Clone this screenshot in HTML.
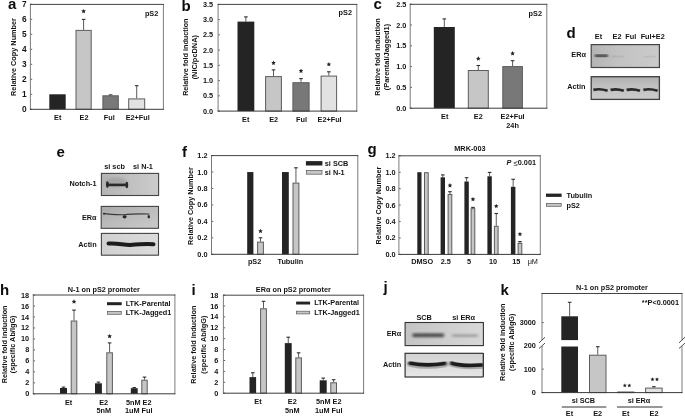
<!DOCTYPE html>
<html><head><meta charset="utf-8"><title>Figure</title>
<style>
html,body{margin:0;padding:0;background:#fff;}
body{width:685px;height:418px;overflow:hidden;font-family:"Liberation Sans",sans-serif;}
svg{display:block;font-family:"Liberation Sans",sans-serif;filter:blur(0.3px);}
</style></head><body>
<svg width="685" height="418" viewBox="0 0 685 418">
<rect x="0" y="0" width="685" height="418" fill="#ffffff"/>
<text x="12.20" y="9.00" text-anchor="middle" font-size="15" font-weight="bold" fill="#0c0c0c">a</text>
<text x="186.00" y="11.40" text-anchor="middle" font-size="15" font-weight="bold" fill="#0c0c0c">b</text>
<text x="377.60" y="8.70" text-anchor="middle" font-size="15" font-weight="bold" fill="#0c0c0c">c</text>
<text x="571.00" y="37.90" text-anchor="middle" font-size="15" font-weight="bold" fill="#0c0c0c">d</text>
<text x="60.60" y="156.80" text-anchor="middle" font-size="15" font-weight="bold" fill="#0c0c0c">e</text>
<text x="184.50" y="156.80" text-anchor="middle" font-size="15" font-weight="bold" fill="#0c0c0c">f</text>
<text x="372.00" y="153.60" text-anchor="middle" font-size="15" font-weight="bold" fill="#0c0c0c">g</text>
<text x="4.50" y="295.10" text-anchor="middle" font-size="15" font-weight="bold" fill="#0c0c0c">h</text>
<text x="193.50" y="294.80" text-anchor="middle" font-size="15" font-weight="bold" fill="#0c0c0c">i</text>
<text x="385.50" y="292.00" text-anchor="middle" font-size="15" font-weight="bold" fill="#0c0c0c">j</text>
<text x="504.70" y="295.10" text-anchor="middle" font-size="15" font-weight="bold" fill="#0c0c0c">k</text>
<line x1="30.40" y1="109.30" x2="32.20" y2="109.30" stroke="#3c3c3c" stroke-width="0.8"/>
<text x="26.60" y="109.30" text-anchor="end" font-size="8.3" font-weight="bold" fill="#141414" dominant-baseline="central" >0</text>
<line x1="30.40" y1="94.30" x2="32.20" y2="94.30" stroke="#3c3c3c" stroke-width="0.8"/>
<text x="26.60" y="94.30" text-anchor="end" font-size="8.3" font-weight="bold" fill="#141414" dominant-baseline="central" >1</text>
<line x1="30.40" y1="79.30" x2="32.20" y2="79.30" stroke="#3c3c3c" stroke-width="0.8"/>
<text x="26.60" y="79.30" text-anchor="end" font-size="8.3" font-weight="bold" fill="#141414" dominant-baseline="central" >2</text>
<line x1="30.40" y1="64.30" x2="32.20" y2="64.30" stroke="#3c3c3c" stroke-width="0.8"/>
<text x="26.60" y="64.30" text-anchor="end" font-size="8.3" font-weight="bold" fill="#141414" dominant-baseline="central" >3</text>
<line x1="30.40" y1="49.30" x2="32.20" y2="49.30" stroke="#3c3c3c" stroke-width="0.8"/>
<text x="26.60" y="49.30" text-anchor="end" font-size="8.3" font-weight="bold" fill="#141414" dominant-baseline="central" >4</text>
<line x1="30.40" y1="34.30" x2="32.20" y2="34.30" stroke="#3c3c3c" stroke-width="0.8"/>
<text x="26.60" y="34.30" text-anchor="end" font-size="8.3" font-weight="bold" fill="#141414" dominant-baseline="central" >5</text>
<line x1="30.40" y1="19.30" x2="32.20" y2="19.30" stroke="#3c3c3c" stroke-width="0.8"/>
<text x="26.60" y="19.30" text-anchor="end" font-size="8.3" font-weight="bold" fill="#141414" dominant-baseline="central" >6</text>
<line x1="30.40" y1="4.30" x2="32.20" y2="4.30" stroke="#3c3c3c" stroke-width="0.8"/>
<text x="26.60" y="4.30" text-anchor="end" font-size="8.3" font-weight="bold" fill="#141414" dominant-baseline="central" >7</text>
<rect x="49.30" y="94.30" width="16.40" height="15.00" fill="#242424"/>
<line x1="83.60" y1="29.90" x2="83.60" y2="19.30" stroke="#5a5a5a" stroke-width="1.0"/>
<line x1="81.80" y1="19.40" x2="85.40" y2="19.40" stroke="#2e2e2e" stroke-width="1.1"/>
<rect x="76.00" y="30.40" width="15.20" height="78.90" fill="#c6c6c6" stroke="#5c5c5c" stroke-width="1.0"/>
<polygon points="83.60,8.90 84.28,10.37 85.88,10.56 84.69,11.66 85.01,13.24 83.60,12.45 82.19,13.24 82.51,11.66 81.32,10.56 82.92,10.37" fill="#222"/>
<line x1="110.60" y1="95.30" x2="110.60" y2="94.80" stroke="#5a5a5a" stroke-width="1.0"/>
<line x1="108.80" y1="94.90" x2="112.40" y2="94.90" stroke="#2e2e2e" stroke-width="1.1"/>
<rect x="102.90" y="95.80" width="15.40" height="13.50" fill="#787878" stroke="#5c5c5c" stroke-width="1.0"/>
<line x1="136.70" y1="98.40" x2="136.70" y2="85.60" stroke="#5a5a5a" stroke-width="1.0"/>
<line x1="134.90" y1="85.70" x2="138.50" y2="85.70" stroke="#2e2e2e" stroke-width="1.1"/>
<rect x="128.70" y="98.90" width="16.00" height="10.40" fill="#e2e2e2" stroke="#5c5c5c" stroke-width="1.0"/>
<line x1="30.40" y1="3.95" x2="30.40" y2="109.75" stroke="#747474" stroke-width="0.95"/>
<line x1="163.40" y1="3.95" x2="163.40" y2="109.75" stroke="#747474" stroke-width="0.95"/>
<line x1="29.95" y1="4.40" x2="163.85" y2="4.40" stroke="#444" stroke-width="1.0"/>
<line x1="29.95" y1="109.30" x2="163.85" y2="109.30" stroke="#3a3a3a" stroke-width="1.0"/>
<text x="57.70" y="117.60" text-anchor="middle" font-size="7.3" font-weight="bold" fill="#141414" dominant-baseline="central" >Et</text>
<text x="84.00" y="117.60" text-anchor="middle" font-size="7.3" font-weight="bold" fill="#141414" dominant-baseline="central" >E2</text>
<text x="109.30" y="117.60" text-anchor="middle" font-size="7.3" font-weight="bold" fill="#141414" dominant-baseline="central" >Ful</text>
<text x="137.70" y="117.60" text-anchor="middle" font-size="7.3" font-weight="bold" fill="#141414" dominant-baseline="central" >E2+Ful</text>
<text x="13.40" y="57.00" text-anchor="middle" font-size="7.3" font-weight="bold" fill="#141414" dominant-baseline="central" transform="rotate(-90 13.40 57.00)" >Relative Copy Number</text>
<text x="158.30" y="13.90" text-anchor="end" font-size="7.3" font-weight="bold" fill="#141414" dominant-baseline="central" >pS2</text>
<line x1="218.10" y1="111.10" x2="219.90" y2="111.10" stroke="#3c3c3c" stroke-width="0.8"/>
<text x="213.10" y="111.10" text-anchor="end" font-size="7.3" font-weight="bold" fill="#141414" dominant-baseline="central" >0.0</text>
<line x1="218.10" y1="95.85" x2="219.90" y2="95.85" stroke="#3c3c3c" stroke-width="0.8"/>
<text x="213.10" y="95.85" text-anchor="end" font-size="7.3" font-weight="bold" fill="#141414" dominant-baseline="central" >0.5</text>
<line x1="218.10" y1="80.60" x2="219.90" y2="80.60" stroke="#3c3c3c" stroke-width="0.8"/>
<text x="213.10" y="80.60" text-anchor="end" font-size="7.3" font-weight="bold" fill="#141414" dominant-baseline="central" >1.0</text>
<line x1="218.10" y1="65.35" x2="219.90" y2="65.35" stroke="#3c3c3c" stroke-width="0.8"/>
<text x="213.10" y="65.35" text-anchor="end" font-size="7.3" font-weight="bold" fill="#141414" dominant-baseline="central" >1.5</text>
<line x1="218.10" y1="50.10" x2="219.90" y2="50.10" stroke="#3c3c3c" stroke-width="0.8"/>
<text x="213.10" y="50.10" text-anchor="end" font-size="7.3" font-weight="bold" fill="#141414" dominant-baseline="central" >2.0</text>
<line x1="218.10" y1="34.85" x2="219.90" y2="34.85" stroke="#3c3c3c" stroke-width="0.8"/>
<text x="213.10" y="34.85" text-anchor="end" font-size="7.3" font-weight="bold" fill="#141414" dominant-baseline="central" >2.5</text>
<line x1="218.10" y1="19.60" x2="219.90" y2="19.60" stroke="#3c3c3c" stroke-width="0.8"/>
<text x="213.10" y="19.60" text-anchor="end" font-size="7.3" font-weight="bold" fill="#141414" dominant-baseline="central" >3.0</text>
<line x1="218.10" y1="4.35" x2="219.90" y2="4.35" stroke="#3c3c3c" stroke-width="0.8"/>
<text x="213.10" y="4.35" text-anchor="end" font-size="7.3" font-weight="bold" fill="#141414" dominant-baseline="central" >3.5</text>
<line x1="245.90" y1="21.60" x2="245.90" y2="16.80" stroke="#5a5a5a" stroke-width="1.0"/>
<line x1="244.10" y1="16.90" x2="247.70" y2="16.90" stroke="#2e2e2e" stroke-width="1.1"/>
<rect x="237.50" y="21.60" width="16.80" height="89.50" fill="#242424"/>
<line x1="273.50" y1="76.10" x2="273.50" y2="69.80" stroke="#5a5a5a" stroke-width="1.0"/>
<line x1="271.70" y1="69.90" x2="275.30" y2="69.90" stroke="#2e2e2e" stroke-width="1.1"/>
<rect x="265.60" y="76.60" width="15.80" height="34.50" fill="#c6c6c6" stroke="#5c5c5c" stroke-width="1.0"/>
<polygon points="273.50,60.60 274.18,62.07 275.78,62.26 274.59,63.36 274.91,64.94 273.50,64.15 272.09,64.94 272.41,63.36 271.22,62.26 272.82,62.07" fill="#222"/>
<line x1="301.00" y1="82.20" x2="301.00" y2="78.50" stroke="#5a5a5a" stroke-width="1.0"/>
<line x1="299.20" y1="78.60" x2="302.80" y2="78.60" stroke="#2e2e2e" stroke-width="1.1"/>
<rect x="292.90" y="82.70" width="16.20" height="28.40" fill="#787878" stroke="#5c5c5c" stroke-width="1.0"/>
<polygon points="301.00,68.60 301.68,70.07 303.28,70.26 302.09,71.36 302.41,72.94 301.00,72.15 299.59,72.94 299.91,71.36 298.72,70.26 300.32,70.07" fill="#222"/>
<line x1="328.85" y1="75.60" x2="328.85" y2="71.70" stroke="#5a5a5a" stroke-width="1.0"/>
<line x1="327.05" y1="71.80" x2="330.65" y2="71.80" stroke="#2e2e2e" stroke-width="1.1"/>
<rect x="321.10" y="76.10" width="15.50" height="35.00" fill="#e2e2e2" stroke="#5c5c5c" stroke-width="1.0"/>
<polygon points="328.85,62.00 329.53,63.47 331.13,63.66 329.94,64.76 330.26,66.34 328.85,65.55 327.44,66.34 327.76,64.76 326.57,63.66 328.17,63.47" fill="#222"/>
<line x1="218.10" y1="3.95" x2="218.10" y2="111.55" stroke="#747474" stroke-width="0.95"/>
<line x1="356.80" y1="3.95" x2="356.80" y2="111.55" stroke="#747474" stroke-width="0.95"/>
<line x1="217.65" y1="4.40" x2="357.25" y2="4.40" stroke="#444" stroke-width="1.0"/>
<line x1="217.65" y1="111.10" x2="357.25" y2="111.10" stroke="#3a3a3a" stroke-width="1.0"/>
<text x="245.70" y="119.60" text-anchor="middle" font-size="7.3" font-weight="bold" fill="#141414" dominant-baseline="central" >Et</text>
<text x="273.70" y="119.60" text-anchor="middle" font-size="7.3" font-weight="bold" fill="#141414" dominant-baseline="central" >E2</text>
<text x="301.60" y="119.60" text-anchor="middle" font-size="7.3" font-weight="bold" fill="#141414" dominant-baseline="central" >Ful</text>
<text x="329.60" y="119.60" text-anchor="middle" font-size="7.3" font-weight="bold" fill="#141414" dominant-baseline="central" >E2+Ful</text>
<text x="186.00" y="57.20" text-anchor="middle" font-size="7.3" font-weight="bold" fill="#141414" dominant-baseline="central" transform="rotate(-90 186.00 57.20)"  textLength="77.3" lengthAdjust="spacingAndGlyphs">Relative fold induction</text>
<text x="194.70" y="57.20" text-anchor="middle" font-size="7.3" font-weight="bold" fill="#141414" dominant-baseline="central" transform="rotate(-90 194.70 57.20)"  textLength="44.3" lengthAdjust="spacingAndGlyphs">(NIC/pcDNA)</text>
<text x="352.00" y="12.80" text-anchor="end" font-size="7.3" font-weight="bold" fill="#141414" dominant-baseline="central" >pS2</text>
<line x1="410.20" y1="108.20" x2="412.00" y2="108.20" stroke="#3c3c3c" stroke-width="0.8"/>
<text x="406.30" y="108.20" text-anchor="end" font-size="7.3" font-weight="bold" fill="#141414" dominant-baseline="central" >0.0</text>
<line x1="410.20" y1="87.40" x2="412.00" y2="87.40" stroke="#3c3c3c" stroke-width="0.8"/>
<text x="406.30" y="87.40" text-anchor="end" font-size="7.3" font-weight="bold" fill="#141414" dominant-baseline="central" >0.5</text>
<line x1="410.20" y1="66.60" x2="412.00" y2="66.60" stroke="#3c3c3c" stroke-width="0.8"/>
<text x="406.30" y="66.60" text-anchor="end" font-size="7.3" font-weight="bold" fill="#141414" dominant-baseline="central" >1.0</text>
<line x1="410.20" y1="45.80" x2="412.00" y2="45.80" stroke="#3c3c3c" stroke-width="0.8"/>
<text x="406.30" y="45.80" text-anchor="end" font-size="7.3" font-weight="bold" fill="#141414" dominant-baseline="central" >1.5</text>
<line x1="410.20" y1="25.00" x2="412.00" y2="25.00" stroke="#3c3c3c" stroke-width="0.8"/>
<text x="406.30" y="25.00" text-anchor="end" font-size="7.3" font-weight="bold" fill="#141414" dominant-baseline="central" >2.0</text>
<line x1="410.20" y1="4.20" x2="412.00" y2="4.20" stroke="#3c3c3c" stroke-width="0.8"/>
<text x="406.30" y="4.20" text-anchor="end" font-size="7.3" font-weight="bold" fill="#141414" dominant-baseline="central" >2.5</text>
<line x1="444.30" y1="27.00" x2="444.30" y2="18.80" stroke="#5a5a5a" stroke-width="1.0"/>
<line x1="442.50" y1="18.90" x2="446.10" y2="18.90" stroke="#2e2e2e" stroke-width="1.1"/>
<rect x="433.80" y="27.00" width="21.00" height="81.20" fill="#242424"/>
<line x1="478.30" y1="70.00" x2="478.30" y2="65.40" stroke="#5a5a5a" stroke-width="1.0"/>
<line x1="476.50" y1="65.50" x2="480.10" y2="65.50" stroke="#2e2e2e" stroke-width="1.1"/>
<rect x="468.30" y="70.50" width="20.00" height="37.70" fill="#c6c6c6" stroke="#5c5c5c" stroke-width="1.0"/>
<polygon points="478.30,56.30 478.98,57.77 480.58,57.96 479.39,59.06 479.71,60.64 478.30,59.85 476.89,60.64 477.21,59.06 476.02,57.96 477.62,57.77" fill="#222"/>
<line x1="512.60" y1="66.10" x2="512.60" y2="60.60" stroke="#5a5a5a" stroke-width="1.0"/>
<line x1="510.80" y1="60.70" x2="514.40" y2="60.70" stroke="#2e2e2e" stroke-width="1.1"/>
<rect x="502.80" y="66.60" width="19.60" height="41.60" fill="#787878" stroke="#5c5c5c" stroke-width="1.0"/>
<polygon points="512.60,51.10 513.28,52.57 514.88,52.76 513.69,53.86 514.01,55.44 512.60,54.65 511.19,55.44 511.51,53.86 510.32,52.76 511.92,52.57" fill="#222"/>
<line x1="410.20" y1="3.85" x2="410.20" y2="108.65" stroke="#747474" stroke-width="0.95"/>
<line x1="546.80" y1="3.85" x2="546.80" y2="108.65" stroke="#747474" stroke-width="0.95"/>
<line x1="409.75" y1="4.30" x2="547.25" y2="4.30" stroke="#444" stroke-width="1.0"/>
<line x1="409.75" y1="108.20" x2="547.25" y2="108.20" stroke="#3a3a3a" stroke-width="1.0"/>
<text x="444.70" y="116.60" text-anchor="middle" font-size="7.3" font-weight="bold" fill="#141414" dominant-baseline="central" >Et</text>
<text x="478.30" y="116.60" text-anchor="middle" font-size="7.3" font-weight="bold" fill="#141414" dominant-baseline="central" >E2</text>
<text x="512.60" y="116.60" text-anchor="middle" font-size="7.3" font-weight="bold" fill="#141414" dominant-baseline="central" >E2+Ful</text>
<text x="512.60" y="125.20" text-anchor="middle" font-size="7.3" font-weight="bold" fill="#141414" dominant-baseline="central" >24h</text>
<text x="377.60" y="57.00" text-anchor="middle" font-size="7.3" font-weight="bold" fill="#141414" dominant-baseline="central" transform="rotate(-90 377.60 57.00)"  textLength="77.5" lengthAdjust="spacingAndGlyphs">Relative fold induction</text>
<text x="386.20" y="57.00" text-anchor="middle" font-size="7.3" font-weight="bold" fill="#141414" dominant-baseline="central" transform="rotate(-90 386.20 57.00)"  textLength="66.5" lengthAdjust="spacingAndGlyphs">(Parental/Jagged1)</text>
<text x="542.00" y="13.00" text-anchor="end" font-size="7.3" font-weight="bold" fill="#141414" dominant-baseline="central" >pS2</text>
<defs>
<filter id="b1" x="-20%" y="-100%" width="140%" height="300%"><feGaussianBlur stdDeviation="0.9 0.7"/></filter>
<filter id="b2" x="-20%" y="-100%" width="140%" height="300%"><feGaussianBlur stdDeviation="1.4 1.1"/></filter>
<filter id="b05" x="-20%" y="-100%" width="140%" height="300%"><feGaussianBlur stdDeviation="0.5"/></filter>
<linearGradient id="gd1" x1="0" x2="1" y1="0" y2="0"><stop offset="0" stop-color="#b4b4b4"/><stop offset="0.4" stop-color="#c2c2c2"/><stop offset="1" stop-color="#cbcbcb"/></linearGradient>
<linearGradient id="gd2" x1="0" x2="0" y1="0" y2="1"><stop offset="0" stop-color="#aeaeae"/><stop offset="0.35" stop-color="#bebebe"/><stop offset="1" stop-color="#cccccc"/></linearGradient>
<linearGradient id="ge1" x1="0" x2="1" y1="0" y2="0"><stop offset="0" stop-color="#b4b4b4"/><stop offset="0.5" stop-color="#c0c0c0"/><stop offset="1" stop-color="#cccccc"/></linearGradient>
<linearGradient id="ge2" x1="0" x2="1" y1="0" y2="1"><stop offset="0" stop-color="#a8a8a8"/><stop offset="0.5" stop-color="#bcbcbc"/><stop offset="1" stop-color="#cacaca"/></linearGradient>
<linearGradient id="ge3" x1="0" x2="1" y1="0" y2="0"><stop offset="0" stop-color="#d0d0d0"/><stop offset="1" stop-color="#dcdcdc"/></linearGradient>
<linearGradient id="gj1" x1="0" x2="1" y1="0" y2="0"><stop offset="0" stop-color="#c4c4c4"/><stop offset="1" stop-color="#d8d8d8"/></linearGradient>
<linearGradient id="gj2" x1="0" x2="0" y1="0" y2="1"><stop offset="0" stop-color="#d2d2d2"/><stop offset="1" stop-color="#e6e6e6"/></linearGradient>
</defs>
<text x="598.50" y="36.60" text-anchor="middle" font-size="7.3" font-weight="bold" fill="#141414" dominant-baseline="central" >Et</text>
<text x="617.00" y="36.60" text-anchor="middle" font-size="7.3" font-weight="bold" fill="#141414" dominant-baseline="central" >E2</text>
<text x="630.80" y="36.60" text-anchor="middle" font-size="7.3" font-weight="bold" fill="#141414" dominant-baseline="central" >Ful</text>
<text x="652.70" y="36.60" text-anchor="middle" font-size="7.3" font-weight="bold" fill="#141414" dominant-baseline="central" >Ful+E2</text>
<rect x="591.20" y="44.60" width="68.20" height="22.90" fill="url(#gd1)" stroke="#444" stroke-width="1.2"/>
<rect x="594.80" y="54.30" width="13.20" height="3.00" rx="1" fill="#444" opacity="0.8" filter="url(#b1)"/>
<rect x="611.00" y="55.50" width="13.00" height="2.00" rx="1" fill="#888" opacity="0.2" filter="url(#b1)"/>
<rect x="644.00" y="55.80" width="12.00" height="1.80" rx="1" fill="#888" opacity="0.2" filter="url(#b1)"/>
<rect x="591.20" y="76.70" width="68.20" height="22.70" fill="url(#gd2)" stroke="#3e3e3e" stroke-width="1.3"/>
<path d="M593.4 89.9 C597.4 88.9 601.6 88.7 607.6 90.8" stroke="#2a2a2a" stroke-width="2.7" fill="none" filter="url(#b05)"/>
<path d="M610.6 89.9 C614.6 88.9 617.8 88.7 623.8 90.8" stroke="#2a2a2a" stroke-width="2.7" fill="none" filter="url(#b05)"/>
<path d="M626.6 89.9 C630.6 88.9 634.0 88.7 640.0 90.8" stroke="#2a2a2a" stroke-width="2.7" fill="none" filter="url(#b05)"/>
<path d="M643.4 89.9 C647.4 88.9 651.6 88.7 657.6 90.8" stroke="#2a2a2a" stroke-width="2.7" fill="none" filter="url(#b05)"/>
<text x="585.90" y="54.30" text-anchor="end" font-size="7.3" font-weight="bold" fill="#141414" dominant-baseline="central" >ER&#945;</text>
<text x="585.50" y="86.80" text-anchor="end" font-size="7.3" font-weight="bold" fill="#141414" dominant-baseline="central" >Actin</text>
<text x="114.60" y="166.40" text-anchor="middle" font-size="7.3" font-weight="bold" fill="#141414" dominant-baseline="central" >si scb</text>
<text x="143.00" y="166.40" text-anchor="middle" font-size="7.3" font-weight="bold" fill="#141414" dominant-baseline="central" >si N-1</text>
<rect x="101.40" y="173.40" width="57.20" height="22.10" fill="url(#ge1)" stroke="#444" stroke-width="1.1"/>
<ellipse cx="116" cy="182.5" rx="11" ry="5" fill="#8a8a8a" opacity="0.4" filter="url(#b2)"/>
<g filter="url(#b05)"><line x1="107.3" y1="184.9" x2="126.8" y2="184.9" stroke="#2c2c2c" stroke-width="2.6"/><ellipse cx="107.4" cy="184.6" rx="1.4" ry="3.3" fill="#2c2c2c"/><ellipse cx="126.8" cy="185" rx="1.4" ry="3.3" fill="#2c2c2c"/></g>
<rect x="101.20" y="206.40" width="57.30" height="21.90" fill="url(#ge2)" stroke="#444" stroke-width="1.1"/>
<path d="M103.6 213.6 C110 214.4 118 214.6 124 214.8 C132 213.6 140 213.8 149.5 214" stroke="#3a3a3a" stroke-width="1.2" fill="none" filter="url(#b05)"/>
<g filter="url(#b05)" fill="#262626"><ellipse cx="124.6" cy="216.8" rx="2" ry="1.6"/><ellipse cx="148.8" cy="216.8" rx="1.2" ry="1.7"/><ellipse cx="104" cy="213.6" rx="1" ry="0.9"/></g>
<rect x="101.40" y="233.40" width="57.10" height="21.80" fill="url(#ge3)" stroke="#444" stroke-width="1.1"/>
<path d="M108.5 243.6 C116 242.8 122 244.6 130 245 C138 244.2 146 243.4 153.5 244.2" stroke="#1e1e1e" stroke-width="4" stroke-linecap="round" fill="none" filter="url(#b05)"/>
<text x="96.60" y="183.80" text-anchor="end" font-size="7.3" font-weight="bold" fill="#141414" dominant-baseline="central" >Notch-1</text>
<text x="96.60" y="217.40" text-anchor="end" font-size="7.3" font-weight="bold" fill="#141414" dominant-baseline="central" >ER&#945;</text>
<text x="96.60" y="244.00" text-anchor="end" font-size="7.3" font-weight="bold" fill="#141414" dominant-baseline="central" >Actin</text>
<line x1="211.50" y1="254.30" x2="213.30" y2="254.30" stroke="#3c3c3c" stroke-width="0.8"/>
<text x="207.50" y="254.30" text-anchor="end" font-size="7.3" font-weight="bold" fill="#141414" dominant-baseline="central" >0.0</text>
<line x1="211.50" y1="237.85" x2="213.30" y2="237.85" stroke="#3c3c3c" stroke-width="0.8"/>
<text x="207.50" y="237.85" text-anchor="end" font-size="7.3" font-weight="bold" fill="#141414" dominant-baseline="central" >0.2</text>
<line x1="211.50" y1="221.40" x2="213.30" y2="221.40" stroke="#3c3c3c" stroke-width="0.8"/>
<text x="207.50" y="221.40" text-anchor="end" font-size="7.3" font-weight="bold" fill="#141414" dominant-baseline="central" >0.4</text>
<line x1="211.50" y1="204.95" x2="213.30" y2="204.95" stroke="#3c3c3c" stroke-width="0.8"/>
<text x="207.50" y="204.95" text-anchor="end" font-size="7.3" font-weight="bold" fill="#141414" dominant-baseline="central" >0.6</text>
<line x1="211.50" y1="188.50" x2="213.30" y2="188.50" stroke="#3c3c3c" stroke-width="0.8"/>
<text x="207.50" y="188.50" text-anchor="end" font-size="7.3" font-weight="bold" fill="#141414" dominant-baseline="central" >0.8</text>
<line x1="211.50" y1="172.05" x2="213.30" y2="172.05" stroke="#3c3c3c" stroke-width="0.8"/>
<text x="207.50" y="172.05" text-anchor="end" font-size="7.3" font-weight="bold" fill="#141414" dominant-baseline="central" >1.0</text>
<line x1="211.50" y1="155.60" x2="213.30" y2="155.60" stroke="#3c3c3c" stroke-width="0.8"/>
<text x="207.50" y="155.60" text-anchor="end" font-size="7.3" font-weight="bold" fill="#141414" dominant-baseline="central" >1.2</text>
<rect x="247.20" y="172.05" width="6.20" height="82.25" fill="#242424"/>
<line x1="260.50" y1="241.60" x2="260.50" y2="237.70" stroke="#5a5a5a" stroke-width="1.0"/>
<line x1="258.70" y1="237.80" x2="262.30" y2="237.80" stroke="#2e2e2e" stroke-width="1.1"/>
<rect x="257.60" y="242.10" width="5.80" height="12.20" fill="#c6c6c6" stroke="#5c5c5c" stroke-width="1.0"/>
<polygon points="260.50,228.80 261.18,230.27 262.78,230.46 261.59,231.56 261.91,233.14 260.50,232.35 259.09,233.14 259.41,231.56 258.22,230.46 259.82,230.27" fill="#222"/>
<rect x="282.00" y="172.05" width="6.80" height="82.25" fill="#242424"/>
<line x1="295.95" y1="182.60" x2="295.95" y2="167.70" stroke="#5a5a5a" stroke-width="1.0"/>
<line x1="294.15" y1="167.80" x2="297.75" y2="167.80" stroke="#2e2e2e" stroke-width="1.1"/>
<rect x="293.00" y="183.10" width="5.90" height="71.20" fill="#c6c6c6" stroke="#5c5c5c" stroke-width="1.0"/>
<line x1="211.50" y1="155.15" x2="211.50" y2="254.75" stroke="#747474" stroke-width="0.95"/>
<line x1="357.80" y1="155.15" x2="357.80" y2="254.75" stroke="#747474" stroke-width="0.95"/>
<line x1="211.05" y1="155.60" x2="358.25" y2="155.60" stroke="#444" stroke-width="1.0"/>
<line x1="211.05" y1="254.30" x2="358.25" y2="254.30" stroke="#3a3a3a" stroke-width="1.0"/>
<text x="254.60" y="261.70" text-anchor="middle" font-size="7.3" font-weight="bold" fill="#141414" dominant-baseline="central" >pS2</text>
<text x="290.40" y="261.70" text-anchor="middle" font-size="7.3" font-weight="bold" fill="#141414" dominant-baseline="central" >Tubulin</text>
<text x="190.00" y="206.00" text-anchor="middle" font-size="7.3" font-weight="bold" fill="#141414" dominant-baseline="central" transform="rotate(-90 190.00 206.00)" >Relative Copy Number</text>
<rect x="305.90" y="161.10" width="16.50" height="4.40" fill="#242424"/>
<text x="324.80" y="163.30" text-anchor="start" font-size="7.3" font-weight="bold" fill="#141414" dominant-baseline="central" >si SCB</text>
<rect x="306.30" y="170.40" width="15.70" height="3.80" fill="#c6c6c6" stroke="#606060" stroke-width="0.75"/>
<text x="324.80" y="172.20" text-anchor="start" font-size="7.3" font-weight="bold" fill="#141414" dominant-baseline="central" >si N-1</text>
<line x1="398.90" y1="254.40" x2="400.70" y2="254.40" stroke="#3c3c3c" stroke-width="0.8"/>
<text x="395.60" y="254.40" text-anchor="end" font-size="7.3" font-weight="bold" fill="#141414" dominant-baseline="central" >0.0</text>
<line x1="398.90" y1="237.97" x2="400.70" y2="237.97" stroke="#3c3c3c" stroke-width="0.8"/>
<text x="395.60" y="237.97" text-anchor="end" font-size="7.3" font-weight="bold" fill="#141414" dominant-baseline="central" >0.2</text>
<line x1="398.90" y1="221.54" x2="400.70" y2="221.54" stroke="#3c3c3c" stroke-width="0.8"/>
<text x="395.60" y="221.54" text-anchor="end" font-size="7.3" font-weight="bold" fill="#141414" dominant-baseline="central" >0.4</text>
<line x1="398.90" y1="205.11" x2="400.70" y2="205.11" stroke="#3c3c3c" stroke-width="0.8"/>
<text x="395.60" y="205.11" text-anchor="end" font-size="7.3" font-weight="bold" fill="#141414" dominant-baseline="central" >0.6</text>
<line x1="398.90" y1="188.68" x2="400.70" y2="188.68" stroke="#3c3c3c" stroke-width="0.8"/>
<text x="395.60" y="188.68" text-anchor="end" font-size="7.3" font-weight="bold" fill="#141414" dominant-baseline="central" >0.8</text>
<line x1="398.90" y1="172.25" x2="400.70" y2="172.25" stroke="#3c3c3c" stroke-width="0.8"/>
<text x="395.60" y="172.25" text-anchor="end" font-size="7.3" font-weight="bold" fill="#141414" dominant-baseline="central" >1.0</text>
<line x1="398.90" y1="155.82" x2="400.70" y2="155.82" stroke="#3c3c3c" stroke-width="0.8"/>
<text x="395.60" y="155.82" text-anchor="end" font-size="7.3" font-weight="bold" fill="#141414" dominant-baseline="central" >1.2</text>
<rect x="417.30" y="172.20" width="4.20" height="82.20" fill="#242424"/>
<rect x="424.50" y="172.70" width="3.70" height="81.70" fill="#c6c6c6" stroke="#5c5c5c" stroke-width="1.0"/>
<line x1="442.80" y1="177.30" x2="442.80" y2="174.80" stroke="#5a5a5a" stroke-width="1.0"/>
<line x1="441.00" y1="174.90" x2="444.60" y2="174.90" stroke="#2e2e2e" stroke-width="1.1"/>
<rect x="440.60" y="177.30" width="4.40" height="77.10" fill="#242424"/>
<line x1="449.95" y1="194.00" x2="449.95" y2="191.60" stroke="#5a5a5a" stroke-width="1.0"/>
<line x1="448.15" y1="191.70" x2="451.75" y2="191.70" stroke="#2e2e2e" stroke-width="1.1"/>
<rect x="448.10" y="194.50" width="3.70" height="59.90" fill="#c6c6c6" stroke="#5c5c5c" stroke-width="1.0"/>
<polygon points="449.95,183.10 450.63,184.57 452.23,184.76 451.04,185.86 451.36,187.44 449.95,186.65 448.54,187.44 448.86,185.86 447.67,184.76 449.27,184.57" fill="#222"/>
<line x1="466.60" y1="181.50" x2="466.60" y2="177.60" stroke="#5a5a5a" stroke-width="1.0"/>
<line x1="464.80" y1="177.70" x2="468.40" y2="177.70" stroke="#2e2e2e" stroke-width="1.1"/>
<rect x="464.40" y="181.50" width="4.40" height="72.90" fill="#242424"/>
<line x1="472.95" y1="208.20" x2="472.95" y2="207.30" stroke="#5a5a5a" stroke-width="1.0"/>
<line x1="471.15" y1="207.40" x2="474.75" y2="207.40" stroke="#2e2e2e" stroke-width="1.1"/>
<rect x="471.10" y="208.70" width="3.70" height="45.70" fill="#c6c6c6" stroke="#5c5c5c" stroke-width="1.0"/>
<polygon points="472.95,196.90 473.63,198.37 475.23,198.56 474.04,199.66 474.36,201.24 472.95,200.45 471.54,201.24 471.86,199.66 470.67,198.56 472.27,198.37" fill="#222"/>
<line x1="489.60" y1="176.30" x2="489.60" y2="172.30" stroke="#5a5a5a" stroke-width="1.0"/>
<line x1="487.80" y1="172.40" x2="491.40" y2="172.40" stroke="#2e2e2e" stroke-width="1.1"/>
<rect x="487.40" y="176.30" width="4.40" height="78.10" fill="#242424"/>
<line x1="496.25" y1="225.80" x2="496.25" y2="213.40" stroke="#5a5a5a" stroke-width="1.0"/>
<line x1="494.45" y1="213.50" x2="498.05" y2="213.50" stroke="#2e2e2e" stroke-width="1.1"/>
<rect x="494.40" y="226.30" width="3.70" height="28.10" fill="#c6c6c6" stroke="#5c5c5c" stroke-width="1.0"/>
<polygon points="496.25,203.70 496.93,205.17 498.53,205.36 497.34,206.46 497.66,208.04 496.25,207.25 494.84,208.04 495.16,206.46 493.97,205.36 495.57,205.17" fill="#222"/>
<line x1="513.15" y1="186.80" x2="513.15" y2="179.20" stroke="#5a5a5a" stroke-width="1.0"/>
<line x1="511.35" y1="179.30" x2="514.95" y2="179.30" stroke="#2e2e2e" stroke-width="1.1"/>
<rect x="510.90" y="186.80" width="4.50" height="67.60" fill="#242424"/>
<line x1="519.95" y1="242.90" x2="519.95" y2="241.50" stroke="#5a5a5a" stroke-width="1.0"/>
<line x1="518.15" y1="241.60" x2="521.75" y2="241.60" stroke="#2e2e2e" stroke-width="1.1"/>
<rect x="518.10" y="243.40" width="3.70" height="11.00" fill="#c6c6c6" stroke="#5c5c5c" stroke-width="1.0"/>
<polygon points="519.95,231.80 520.63,233.27 522.23,233.46 521.04,234.56 521.36,236.14 519.95,235.35 518.54,236.14 518.86,234.56 517.67,233.46 519.27,233.27" fill="#222"/>
<line x1="398.90" y1="155.35" x2="398.90" y2="254.85" stroke="#747474" stroke-width="0.95"/>
<line x1="540.30" y1="155.35" x2="540.30" y2="254.85" stroke="#747474" stroke-width="0.95"/>
<line x1="398.45" y1="155.80" x2="540.75" y2="155.80" stroke="#444" stroke-width="1.0"/>
<line x1="398.45" y1="254.40" x2="540.75" y2="254.40" stroke="#3a3a3a" stroke-width="1.0"/>
<text x="422.20" y="261.70" text-anchor="middle" font-size="7.3" font-weight="bold" fill="#141414" dominant-baseline="central" >DMSO</text>
<text x="445.80" y="261.70" text-anchor="middle" font-size="7.3" font-weight="bold" fill="#141414" dominant-baseline="central" >2.5</text>
<text x="469.00" y="261.70" text-anchor="middle" font-size="7.3" font-weight="bold" fill="#141414" dominant-baseline="central" >5</text>
<text x="493.00" y="261.70" text-anchor="middle" font-size="7.3" font-weight="bold" fill="#141414" dominant-baseline="central" >10</text>
<text x="516.30" y="261.70" text-anchor="middle" font-size="7.3" font-weight="bold" fill="#141414" dominant-baseline="central" >15</text>
<text x="532.80" y="261.70" text-anchor="middle" font-size="7.3" font-weight="normal" fill="#141414" dominant-baseline="central" >&#956;M</text>
<text x="378.40" y="205.50" text-anchor="middle" font-size="7.3" font-weight="bold" fill="#141414" dominant-baseline="central" transform="rotate(-90 378.40 205.50)" >Relative Copy Number</text>
<text x="469.90" y="148.20" text-anchor="middle" font-size="7.3" font-weight="bold" fill="#141414" dominant-baseline="central" >MRK-003</text>
<text x="536" y="161.9" text-anchor="end" font-size="7.3" font-weight="bold" fill="#141414" dominant-baseline="central"><tspan font-style="italic">P</tspan> <tspan font-weight="normal" dy="1.1" font-size="7.8">&#8804;</tspan><tspan dy="-1.1">0.001</tspan></text>
<rect x="546.00" y="193.60" width="15.60" height="3.30" fill="#242424"/>
<text x="566.50" y="195.40" text-anchor="start" font-size="7.3" font-weight="bold" fill="#141414" dominant-baseline="central" >Tubulin</text>
<rect x="546.40" y="203.50" width="14.80" height="2.80" fill="#c6c6c6" stroke="#606060" stroke-width="0.75"/>
<text x="566.50" y="205.00" text-anchor="start" font-size="7.3" font-weight="bold" fill="#141414" dominant-baseline="central" >pS2</text>
<line x1="33.30" y1="393.80" x2="35.10" y2="393.80" stroke="#3c3c3c" stroke-width="0.8"/>
<text x="29.20" y="393.80" text-anchor="end" font-size="7.3" font-weight="bold" fill="#141414" dominant-baseline="central" >0</text>
<line x1="33.30" y1="382.83" x2="35.10" y2="382.83" stroke="#3c3c3c" stroke-width="0.8"/>
<text x="29.20" y="382.83" text-anchor="end" font-size="7.3" font-weight="bold" fill="#141414" dominant-baseline="central" >2</text>
<line x1="33.30" y1="371.86" x2="35.10" y2="371.86" stroke="#3c3c3c" stroke-width="0.8"/>
<text x="29.20" y="371.86" text-anchor="end" font-size="7.3" font-weight="bold" fill="#141414" dominant-baseline="central" >4</text>
<line x1="33.30" y1="360.89" x2="35.10" y2="360.89" stroke="#3c3c3c" stroke-width="0.8"/>
<text x="29.20" y="360.89" text-anchor="end" font-size="7.3" font-weight="bold" fill="#141414" dominant-baseline="central" >6</text>
<line x1="33.30" y1="349.92" x2="35.10" y2="349.92" stroke="#3c3c3c" stroke-width="0.8"/>
<text x="29.20" y="349.92" text-anchor="end" font-size="7.3" font-weight="bold" fill="#141414" dominant-baseline="central" >8</text>
<line x1="33.30" y1="338.95" x2="35.10" y2="338.95" stroke="#3c3c3c" stroke-width="0.8"/>
<text x="29.20" y="338.95" text-anchor="end" font-size="7.3" font-weight="bold" fill="#141414" dominant-baseline="central" >10</text>
<line x1="33.30" y1="327.98" x2="35.10" y2="327.98" stroke="#3c3c3c" stroke-width="0.8"/>
<text x="29.20" y="327.98" text-anchor="end" font-size="7.3" font-weight="bold" fill="#141414" dominant-baseline="central" >12</text>
<line x1="33.30" y1="317.01" x2="35.10" y2="317.01" stroke="#3c3c3c" stroke-width="0.8"/>
<text x="29.20" y="317.01" text-anchor="end" font-size="7.3" font-weight="bold" fill="#141414" dominant-baseline="central" >14</text>
<line x1="33.30" y1="306.04" x2="35.10" y2="306.04" stroke="#3c3c3c" stroke-width="0.8"/>
<text x="29.20" y="306.04" text-anchor="end" font-size="7.3" font-weight="bold" fill="#141414" dominant-baseline="central" >16</text>
<line x1="33.30" y1="295.07" x2="35.10" y2="295.07" stroke="#3c3c3c" stroke-width="0.8"/>
<text x="29.20" y="295.07" text-anchor="end" font-size="7.3" font-weight="bold" fill="#141414" dominant-baseline="central" >18</text>
<line x1="63.50" y1="388.00" x2="63.50" y2="387.00" stroke="#5a5a5a" stroke-width="1.0"/>
<line x1="61.70" y1="387.10" x2="65.30" y2="387.10" stroke="#2e2e2e" stroke-width="1.1"/>
<rect x="60.00" y="388.00" width="7.00" height="5.80" fill="#242424"/>
<line x1="74.00" y1="320.50" x2="74.00" y2="310.00" stroke="#5a5a5a" stroke-width="1.0"/>
<line x1="72.20" y1="310.10" x2="75.80" y2="310.10" stroke="#2e2e2e" stroke-width="1.1"/>
<rect x="71.20" y="321.00" width="5.60" height="72.80" fill="#c6c6c6" stroke="#5c5c5c" stroke-width="1.0"/>
<polygon points="74.00,299.30 74.68,300.77 76.28,300.96 75.09,302.06 75.41,303.64 74.00,302.85 72.59,303.64 72.91,302.06 71.72,300.96 73.32,300.77" fill="#222"/>
<line x1="98.45" y1="383.30" x2="98.45" y2="382.00" stroke="#5a5a5a" stroke-width="1.0"/>
<line x1="96.65" y1="382.10" x2="100.25" y2="382.10" stroke="#2e2e2e" stroke-width="1.1"/>
<rect x="95.00" y="383.30" width="6.90" height="10.50" fill="#242424"/>
<line x1="109.60" y1="352.30" x2="109.60" y2="342.80" stroke="#5a5a5a" stroke-width="1.0"/>
<line x1="107.80" y1="342.90" x2="111.40" y2="342.90" stroke="#2e2e2e" stroke-width="1.1"/>
<rect x="106.80" y="352.80" width="5.60" height="41.00" fill="#c6c6c6" stroke="#5c5c5c" stroke-width="1.0"/>
<polygon points="109.60,333.90 110.28,335.37 111.88,335.56 110.69,336.66 111.01,338.24 109.60,337.45 108.19,338.24 108.51,336.66 107.32,335.56 108.92,335.37" fill="#222"/>
<line x1="134.25" y1="388.20" x2="134.25" y2="387.50" stroke="#5a5a5a" stroke-width="1.0"/>
<line x1="132.45" y1="387.60" x2="136.05" y2="387.60" stroke="#2e2e2e" stroke-width="1.1"/>
<rect x="130.80" y="388.20" width="6.90" height="5.60" fill="#242424"/>
<line x1="144.50" y1="379.70" x2="144.50" y2="377.00" stroke="#5a5a5a" stroke-width="1.0"/>
<line x1="142.70" y1="377.10" x2="146.30" y2="377.10" stroke="#2e2e2e" stroke-width="1.1"/>
<rect x="141.80" y="380.20" width="5.40" height="13.60" fill="#c6c6c6" stroke="#5c5c5c" stroke-width="1.0"/>
<line x1="33.30" y1="294.55" x2="33.30" y2="394.25" stroke="#747474" stroke-width="0.95"/>
<line x1="174.90" y1="294.55" x2="174.90" y2="394.25" stroke="#747474" stroke-width="0.95"/>
<line x1="32.85" y1="295.00" x2="175.35" y2="295.00" stroke="#444" stroke-width="1.0"/>
<line x1="32.85" y1="393.80" x2="175.35" y2="393.80" stroke="#3a3a3a" stroke-width="1.0"/>
<text x="68.60" y="402.00" text-anchor="middle" font-size="7.3" font-weight="bold" fill="#141414" dominant-baseline="central" >Et</text>
<text x="103.70" y="402.00" text-anchor="middle" font-size="7.3" font-weight="bold" fill="#141414" dominant-baseline="central" >E2</text>
<text x="103.70" y="410.60" text-anchor="middle" font-size="7.3" font-weight="bold" fill="#141414" dominant-baseline="central" >5nM</text>
<text x="138.70" y="402.00" text-anchor="middle" font-size="7.3" font-weight="bold" fill="#141414" dominant-baseline="central" >5nM E2</text>
<text x="138.70" y="410.60" text-anchor="middle" font-size="7.3" font-weight="bold" fill="#141414" dominant-baseline="central" >1uM Ful</text>
<text x="4.70" y="344.40" text-anchor="middle" font-size="7.3" font-weight="bold" fill="#141414" dominant-baseline="central" transform="rotate(-90 4.70 344.40)"  textLength="77.8" lengthAdjust="spacingAndGlyphs">Relative fold induction</text>
<text x="12.50" y="344.40" text-anchor="middle" font-size="7.3" font-weight="bold" fill="#141414" dominant-baseline="central" transform="rotate(-90 12.50 344.40)"  textLength="57.8" lengthAdjust="spacingAndGlyphs">(specific Ab/IgG)</text>
<text x="103.80" y="289.00" text-anchor="middle" font-size="7.3" font-weight="bold" fill="#141414" dominant-baseline="central" >N-1 on pS2 promoter</text>
<rect x="107.00" y="302.20" width="14.70" height="3.00" fill="#242424"/>
<text x="125.70" y="303.50" text-anchor="start" font-size="7.3" font-weight="bold" fill="#141414" dominant-baseline="central" >LTK-Parental</text>
<rect x="107.40" y="311.40" width="13.90" height="2.90" fill="#c6c6c6" stroke="#606060" stroke-width="0.75"/>
<text x="125.70" y="312.80" text-anchor="start" font-size="7.3" font-weight="bold" fill="#141414" dominant-baseline="central" >LTK-Jagged1</text>
<line x1="223.40" y1="393.20" x2="225.20" y2="393.20" stroke="#3c3c3c" stroke-width="0.8"/>
<text x="218.30" y="393.20" text-anchor="end" font-size="7.3" font-weight="bold" fill="#141414" dominant-baseline="central" >0</text>
<line x1="223.40" y1="382.30" x2="225.20" y2="382.30" stroke="#3c3c3c" stroke-width="0.8"/>
<text x="218.30" y="382.30" text-anchor="end" font-size="7.3" font-weight="bold" fill="#141414" dominant-baseline="central" >2</text>
<line x1="223.40" y1="371.40" x2="225.20" y2="371.40" stroke="#3c3c3c" stroke-width="0.8"/>
<text x="218.30" y="371.40" text-anchor="end" font-size="7.3" font-weight="bold" fill="#141414" dominant-baseline="central" >4</text>
<line x1="223.40" y1="360.50" x2="225.20" y2="360.50" stroke="#3c3c3c" stroke-width="0.8"/>
<text x="218.30" y="360.50" text-anchor="end" font-size="7.3" font-weight="bold" fill="#141414" dominant-baseline="central" >6</text>
<line x1="223.40" y1="349.60" x2="225.20" y2="349.60" stroke="#3c3c3c" stroke-width="0.8"/>
<text x="218.30" y="349.60" text-anchor="end" font-size="7.3" font-weight="bold" fill="#141414" dominant-baseline="central" >8</text>
<line x1="223.40" y1="338.70" x2="225.20" y2="338.70" stroke="#3c3c3c" stroke-width="0.8"/>
<text x="218.30" y="338.70" text-anchor="end" font-size="7.3" font-weight="bold" fill="#141414" dominant-baseline="central" >10</text>
<line x1="223.40" y1="327.80" x2="225.20" y2="327.80" stroke="#3c3c3c" stroke-width="0.8"/>
<text x="218.30" y="327.80" text-anchor="end" font-size="7.3" font-weight="bold" fill="#141414" dominant-baseline="central" >12</text>
<line x1="223.40" y1="316.90" x2="225.20" y2="316.90" stroke="#3c3c3c" stroke-width="0.8"/>
<text x="218.30" y="316.90" text-anchor="end" font-size="7.3" font-weight="bold" fill="#141414" dominant-baseline="central" >14</text>
<line x1="223.40" y1="306.00" x2="225.20" y2="306.00" stroke="#3c3c3c" stroke-width="0.8"/>
<text x="218.30" y="306.00" text-anchor="end" font-size="7.3" font-weight="bold" fill="#141414" dominant-baseline="central" >16</text>
<line x1="223.40" y1="295.10" x2="225.20" y2="295.10" stroke="#3c3c3c" stroke-width="0.8"/>
<text x="218.30" y="295.10" text-anchor="end" font-size="7.3" font-weight="bold" fill="#141414" dominant-baseline="central" >18</text>
<line x1="252.80" y1="377.10" x2="252.80" y2="372.70" stroke="#5a5a5a" stroke-width="1.0"/>
<line x1="251.00" y1="372.80" x2="254.60" y2="372.80" stroke="#2e2e2e" stroke-width="1.1"/>
<rect x="249.50" y="377.10" width="6.60" height="16.10" fill="#242424"/>
<line x1="263.50" y1="308.30" x2="263.50" y2="301.20" stroke="#5a5a5a" stroke-width="1.0"/>
<line x1="261.70" y1="301.30" x2="265.30" y2="301.30" stroke="#2e2e2e" stroke-width="1.1"/>
<rect x="260.60" y="308.80" width="5.80" height="84.40" fill="#c6c6c6" stroke="#5c5c5c" stroke-width="1.0"/>
<line x1="288.25" y1="343.10" x2="288.25" y2="337.10" stroke="#5a5a5a" stroke-width="1.0"/>
<line x1="286.45" y1="337.20" x2="290.05" y2="337.20" stroke="#2e2e2e" stroke-width="1.1"/>
<rect x="284.80" y="343.10" width="6.90" height="50.10" fill="#242424"/>
<line x1="298.60" y1="357.40" x2="298.60" y2="352.70" stroke="#5a5a5a" stroke-width="1.0"/>
<line x1="296.80" y1="352.80" x2="300.40" y2="352.80" stroke="#2e2e2e" stroke-width="1.1"/>
<rect x="295.80" y="357.90" width="5.60" height="35.30" fill="#c6c6c6" stroke="#5c5c5c" stroke-width="1.0"/>
<line x1="323.20" y1="380.30" x2="323.20" y2="378.00" stroke="#5a5a5a" stroke-width="1.0"/>
<line x1="321.40" y1="378.10" x2="325.00" y2="378.10" stroke="#2e2e2e" stroke-width="1.1"/>
<rect x="319.70" y="380.30" width="7.00" height="12.90" fill="#242424"/>
<line x1="333.65" y1="382.30" x2="333.65" y2="379.60" stroke="#5a5a5a" stroke-width="1.0"/>
<line x1="331.85" y1="379.70" x2="335.45" y2="379.70" stroke="#2e2e2e" stroke-width="1.1"/>
<rect x="330.80" y="382.80" width="5.70" height="10.40" fill="#c6c6c6" stroke="#5c5c5c" stroke-width="1.0"/>
<line x1="223.40" y1="294.75" x2="223.40" y2="393.65" stroke="#747474" stroke-width="0.95"/>
<line x1="363.60" y1="294.75" x2="363.60" y2="393.65" stroke="#747474" stroke-width="0.95"/>
<line x1="222.95" y1="295.20" x2="364.05" y2="295.20" stroke="#444" stroke-width="1.0"/>
<line x1="222.95" y1="393.20" x2="364.05" y2="393.20" stroke="#3a3a3a" stroke-width="1.0"/>
<text x="258.00" y="401.20" text-anchor="middle" font-size="7.3" font-weight="bold" fill="#141414" dominant-baseline="central" >Et</text>
<text x="292.30" y="401.20" text-anchor="middle" font-size="7.3" font-weight="bold" fill="#141414" dominant-baseline="central" >E2</text>
<text x="292.30" y="410.20" text-anchor="middle" font-size="7.3" font-weight="bold" fill="#141414" dominant-baseline="central" >5nM</text>
<text x="328.70" y="401.20" text-anchor="middle" font-size="7.3" font-weight="bold" fill="#141414" dominant-baseline="central" >5nM E2</text>
<text x="328.70" y="410.20" text-anchor="middle" font-size="7.3" font-weight="bold" fill="#141414" dominant-baseline="central" >1uM Ful</text>
<text x="193.50" y="344.60" text-anchor="middle" font-size="7.3" font-weight="bold" fill="#141414" dominant-baseline="central" transform="rotate(-90 193.50 344.60)"  textLength="78.2" lengthAdjust="spacingAndGlyphs">Relative fold induction</text>
<text x="203.40" y="344.60" text-anchor="middle" font-size="7.3" font-weight="bold" fill="#141414" dominant-baseline="central" transform="rotate(-90 203.40 344.60)"  textLength="58.2" lengthAdjust="spacingAndGlyphs">(specific Ab/IgG)</text>
<text x="293.30" y="289.40" text-anchor="middle" font-size="7.3" font-weight="bold" fill="#141414" dominant-baseline="central"  textLength="75" lengthAdjust="spacingAndGlyphs">ER&#945; on pS2 promoter</text>
<rect x="296.10" y="301.60" width="14.00" height="2.90" fill="#242424"/>
<text x="314.20" y="302.80" text-anchor="start" font-size="7.3" font-weight="bold" fill="#141414" dominant-baseline="central" >LTK-Parental</text>
<rect x="296.50" y="311.20" width="13.20" height="2.70" fill="#c6c6c6" stroke="#606060" stroke-width="0.75"/>
<text x="314.20" y="312.40" text-anchor="start" font-size="7.3" font-weight="bold" fill="#141414" dominant-baseline="central" >LTK-Jagged1</text>
<text x="424.20" y="317.20" text-anchor="middle" font-size="7.3" font-weight="bold" fill="#141414" dominant-baseline="central" >SCB</text>
<text x="463.70" y="317.20" text-anchor="middle" font-size="7.3" font-weight="bold" fill="#141414" dominant-baseline="central" >si ER&#945;</text>
<rect x="405.10" y="322.50" width="78.30" height="23.10" fill="url(#gj1)" stroke="#333" stroke-width="1.1"/>
<rect x="412.50" y="333.20" width="31.50" height="4.00" rx="1" fill="#444" opacity="0.9" filter="url(#b2)"/>
<rect x="452.00" y="334.20" width="26.00" height="2.80" rx="1" fill="#777" opacity="0.55" filter="url(#b2)"/>
<rect x="405.10" y="353.30" width="78.30" height="23.70" fill="url(#gj2)" stroke="#333" stroke-width="1.2"/>
<g filter="url(#b1)" fill="none" stroke-linecap="round"><path d="M410.5 364 Q427.5 367.6 445 364.2" stroke="#777" stroke-width="6" opacity="0.55"/><path d="M410 363.2 Q427.5 366.4 444.8 363.4" stroke="#1e1e1e" stroke-width="3.6"/><path d="M452 364 Q462 367.2 482 365.8" stroke="#777" stroke-width="6" opacity="0.55"/><path d="M451.6 363.2 Q462 366.4 482 365" stroke="#1e1e1e" stroke-width="3.6"/></g>
<rect x="483.40" y="352.00" width="3.60" height="26.00" fill="#ffffff"/>
<line x1="483.40" y1="353.10" x2="483.40" y2="377.10" stroke="#333" stroke-width="1.1"/>
<text x="401.30" y="333.40" text-anchor="end" font-size="7.3" font-weight="bold" fill="#141414" dominant-baseline="central" >ER&#945;</text>
<text x="401.30" y="364.50" text-anchor="end" font-size="7.3" font-weight="bold" fill="#141414" dominant-baseline="central" >Actin</text>
<line x1="542.00" y1="392.60" x2="543.80" y2="392.60" stroke="#3c3c3c" stroke-width="0.8"/>
<text x="535.90" y="392.60" text-anchor="end" font-size="7.3" font-weight="bold" fill="#141414" dominant-baseline="central" >0</text>
<line x1="542.00" y1="369.10" x2="543.80" y2="369.10" stroke="#3c3c3c" stroke-width="0.8"/>
<text x="535.90" y="369.10" text-anchor="end" font-size="7.3" font-weight="bold" fill="#141414" dominant-baseline="central" >100</text>
<line x1="542.00" y1="345.80" x2="543.80" y2="345.80" stroke="#3c3c3c" stroke-width="0.8"/>
<text x="535.90" y="345.80" text-anchor="end" font-size="7.3" font-weight="bold" fill="#141414" dominant-baseline="central" >200</text>
<line x1="542.00" y1="322.60" x2="543.80" y2="322.60" stroke="#3c3c3c" stroke-width="0.8"/>
<text x="535.90" y="322.60" text-anchor="end" font-size="7.3" font-weight="bold" fill="#141414" dominant-baseline="central" >3000</text>
<line x1="569.65" y1="316.30" x2="569.65" y2="302.20" stroke="#5a5a5a" stroke-width="1.0"/>
<line x1="567.85" y1="302.30" x2="571.45" y2="302.30" stroke="#2e2e2e" stroke-width="1.1"/>
<rect x="561.30" y="316.30" width="16.70" height="76.30" fill="#242424"/>
<rect x="560.00" y="340.10" width="19.50" height="6.40" fill="#ffffff"/>
<line x1="597.75" y1="354.70" x2="597.75" y2="346.60" stroke="#5a5a5a" stroke-width="1.0"/>
<line x1="595.95" y1="346.70" x2="599.55" y2="346.70" stroke="#2e2e2e" stroke-width="1.1"/>
<rect x="589.50" y="355.20" width="16.50" height="37.40" fill="#c6c6c6" stroke="#5c5c5c" stroke-width="1.0"/>
<rect x="617.80" y="392.00" width="16.10" height="0.60" fill="#e2e2e2" stroke="#5c5c5c" stroke-width="1.0"/>
<polygon points="624.80,383.40 625.39,384.69 626.80,384.85 625.75,385.81 626.03,387.20 624.80,386.50 623.57,387.20 623.85,385.81 622.80,384.85 624.21,384.69" fill="#222"/>
<polygon points="629.30,383.40 629.89,384.69 631.30,384.85 630.25,385.81 630.53,387.20 629.30,386.50 628.07,387.20 628.35,385.81 627.30,384.85 628.71,384.69" fill="#222"/>
<line x1="653.85" y1="387.60" x2="653.85" y2="386.60" stroke="#5a5a5a" stroke-width="1.0"/>
<line x1="652.05" y1="386.70" x2="655.65" y2="386.70" stroke="#2e2e2e" stroke-width="1.1"/>
<rect x="645.60" y="388.10" width="16.50" height="4.50" fill="#e2e2e2" stroke="#5c5c5c" stroke-width="1.0"/>
<polygon points="652.50,377.30 653.09,378.59 654.50,378.75 653.45,379.71 653.73,381.10 652.50,380.40 651.27,381.10 651.55,379.71 650.50,378.75 651.91,378.59" fill="#222"/>
<polygon points="657.00,377.30 657.59,378.59 659.00,378.75 657.95,379.71 658.23,381.10 657.00,380.40 655.77,381.10 656.05,379.71 655.00,378.75 656.41,378.59" fill="#222"/>
<line x1="542.00" y1="293.05" x2="542.00" y2="393.05" stroke="#747474" stroke-width="0.95"/>
<line x1="682.00" y1="293.05" x2="682.00" y2="393.05" stroke="#747474" stroke-width="0.95"/>
<line x1="541.55" y1="293.50" x2="682.45" y2="293.50" stroke="#444" stroke-width="1.0"/>
<line x1="541.55" y1="392.60" x2="682.45" y2="392.60" stroke="#3a3a3a" stroke-width="1.0"/>
<rect x="540.00" y="340.20" width="4.00" height="6.00" fill="#ffffff"/>
<line x1="539.00" y1="342.90" x2="545.00" y2="337.20" stroke="#3c3c3c" stroke-width="0.9"/>
<line x1="539.00" y1="348.50" x2="545.00" y2="343.10" stroke="#3c3c3c" stroke-width="0.9"/>
<rect x="680.00" y="340.20" width="4.00" height="6.00" fill="#ffffff"/>
<line x1="679.00" y1="342.90" x2="685.00" y2="337.20" stroke="#3c3c3c" stroke-width="0.9"/>
<line x1="679.00" y1="348.50" x2="685.00" y2="343.10" stroke="#3c3c3c" stroke-width="0.9"/>
<text x="502.90" y="342.30" text-anchor="middle" font-size="7.3" font-weight="bold" fill="#141414" dominant-baseline="central" transform="rotate(-90 502.90 342.30)"  textLength="77.4" lengthAdjust="spacingAndGlyphs">Relative fold induction</text>
<text x="511.50" y="342.30" text-anchor="middle" font-size="7.3" font-weight="bold" fill="#141414" dominant-baseline="central" transform="rotate(-90 511.50 342.30)"  textLength="57.4" lengthAdjust="spacingAndGlyphs">(specific Ab/IgG)</text>
<text x="612.00" y="287.20" text-anchor="middle" font-size="7.3" font-weight="bold" fill="#141414" dominant-baseline="central"  textLength="71.8" lengthAdjust="spacingAndGlyphs">N-1 on pS2 promoter</text>
<text x="679.00" y="302.50" text-anchor="end" font-size="7.3" font-weight="bold" fill="#141414" dominant-baseline="central" >**P&lt;0.0001</text>
<text x="583.40" y="400.60" text-anchor="middle" font-size="7.3" font-weight="bold" fill="#141414" dominant-baseline="central" >si SCB</text>
<text x="639.00" y="400.60" text-anchor="middle" font-size="7.3" font-weight="bold" fill="#141414" dominant-baseline="central" >si ER&#945;</text>
<line x1="561.80" y1="407.00" x2="606.30" y2="407.00" stroke="#333" stroke-width="1.1"/>
<line x1="617.00" y1="407.00" x2="662.50" y2="407.00" stroke="#333" stroke-width="1.1"/>
<text x="569.50" y="413.60" text-anchor="middle" font-size="7.3" font-weight="bold" fill="#141414" dominant-baseline="central" >Et</text>
<text x="597.70" y="413.60" text-anchor="middle" font-size="7.3" font-weight="bold" fill="#141414" dominant-baseline="central" >E2</text>
<text x="625.70" y="413.60" text-anchor="middle" font-size="7.3" font-weight="bold" fill="#141414" dominant-baseline="central" >Et</text>
<text x="654.00" y="413.60" text-anchor="middle" font-size="7.3" font-weight="bold" fill="#141414" dominant-baseline="central" >E2</text>
</svg>
</body></html>
